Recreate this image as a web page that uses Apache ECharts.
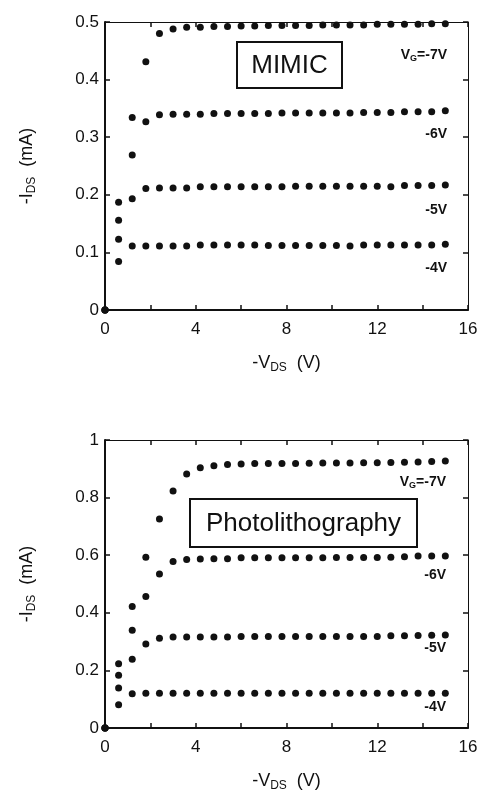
<!DOCTYPE html>
<html>
<head>
<meta charset="utf-8">
<script src="https://cdn.jsdelivr.net/npm/echarts@6/dist/echarts.min.js"></script>
<style>
    html, body {margin: 0; padding: 0; background: #fff;}
    #main {width: 482px; height: 799px;}
</style>
</head>
<body>
<div id="main"></div>
<script>
// -V_DS (V)
var vds = [0, 0.6, 1.2, 1.8, 2.4, 3.0, 3.6, 4.2, 4.8, 5.4, 6.0, 6.6, 7.2, 7.8, 8.4, 9.0,
    9.6, 10.2, 10.8, 11.4, 12.0, 12.6, 13.2, 13.8, 14.4, 15.0];

// MIMIC, -I_DS (mA)
var mimic7 = [0, 0.187, 0.334, 0.431, 0.480, 0.488, 0.491, 0.491, 0.492, 0.492, 0.493, 0.493, 0.494,
    0.494, 0.494, 0.494, 0.495, 0.495, 0.495, 0.495, 0.496, 0.496, 0.496, 0.496, 0.497, 0.497];
var mimic6 = [0, 0.156, 0.269, 0.327, 0.339, 0.340, 0.340, 0.340, 0.341, 0.341, 0.341, 0.341, 0.341,
    0.342, 0.342, 0.342, 0.342, 0.342, 0.342, 0.343, 0.343, 0.343, 0.344, 0.344, 0.344, 0.346];
var mimic5 = [0, 0.123, 0.193, 0.211, 0.212, 0.212, 0.212, 0.214, 0.214, 0.214, 0.214, 0.214, 0.214,
    0.214, 0.215, 0.215, 0.215, 0.215, 0.215, 0.215, 0.215, 0.214, 0.216, 0.216, 0.216, 0.217];
var mimic4 = [0, 0.084, 0.111, 0.111, 0.111, 0.111, 0.111, 0.113, 0.113, 0.113, 0.113, 0.113, 0.112,
    0.112, 0.112, 0.112, 0.112, 0.112, 0.111, 0.113, 0.113, 0.113, 0.113, 0.113, 0.113, 0.114];

// Photolithography, -I_DS (mA)
var photo7 = [0, 0.223, 0.422, 0.593, 0.726, 0.823, 0.882, 0.904, 0.911, 0.915, 0.917, 0.918, 0.918,
    0.918, 0.918, 0.919, 0.920, 0.920, 0.920, 0.921, 0.921, 0.922, 0.923, 0.924, 0.925, 0.927];
var photo6 = [0, 0.183, 0.339, 0.457, 0.535, 0.578, 0.585, 0.587, 0.588, 0.588, 0.591, 0.591, 0.591,
    0.591, 0.591, 0.591, 0.591, 0.592, 0.592, 0.592, 0.592, 0.593, 0.595, 0.597, 0.597, 0.597];
var photo5 = [0, 0.139, 0.239, 0.292, 0.312, 0.316, 0.316, 0.316, 0.316, 0.316, 0.318, 0.318, 0.318,
    0.318, 0.318, 0.318, 0.318, 0.318, 0.318, 0.318, 0.318, 0.320, 0.320, 0.321, 0.322, 0.323];
var photo4 = [0, 0.081, 0.119, 0.121, 0.121, 0.121, 0.121, 0.121, 0.121, 0.121, 0.121, 0.121, 0.121,
    0.121, 0.121, 0.121, 0.121, 0.121, 0.121, 0.121, 0.121, 0.121, 0.121, 0.121, 0.121, 0.121];

var seriesNames = ['-7V', '-6V', '-5V', '-4V'];

var FONT = '"Liberation Sans", Arial, Helvetica, sans-serif';
var INK = '#111';

function pairs(ys) {
    var out = [];
    for (var i = 0; i < ys.length; i++) {
        out.push([vds[i], ys[i]]);
    }
    return out;
}

// name with subscript, for the axis titles
var nameRich = {
    t: {fontSize: 18, fontFamily: FONT, color: INK},
    s: {fontSize: 12, fontFamily: FONT, color: INK, padding: [10, 0, 0, 0]}
};

function xAxisPair(gi) {
    return [{
        gridIndex: gi, type: 'value', min: 0, max: 16, interval: 2,
        name: '{t|-V}{s|DS}{t|  (V)}', nameLocation: 'middle', nameGap: 42,
        nameTextStyle: {rich: nameRich},
        axisLine: {onZero: false, lineStyle: {color: INK, width: 2}},
        axisTick: {inside: true, length: 5, lineStyle: {color: INK, width: 1.5}},
        axisLabel: {
            fontSize: 17, fontFamily: FONT, color: INK, margin: 11,
            formatter: function (v) { return v % 4 === 0 ? String(v) : ''; }
        },
        splitLine: {show: false}
    }, {
        gridIndex: gi, type: 'value', min: 0, max: 16, interval: 2, position: 'top',
        axisLine: {show: true, onZero: false, lineStyle: {color: INK, width: 1}},
        axisTick: {show: true, inside: true, length: 5, lineStyle: {color: INK, width: 1.5}},
        axisLabel: {show: false},
        splitLine: {show: false}
    }];
}

function yAxisPair(gi, max, step) {
    return [{
        gridIndex: gi, type: 'value', min: 0, max: max, interval: step,
        name: '{t|-I}{s|DS}{t|  (mA)}', nameLocation: 'middle', nameGap: 67, nameRotate: 90,
        nameTextStyle: {rich: nameRich},
        axisLine: {show: true, onZero: false, lineStyle: {color: INK, width: 2}},
        axisTick: {show: true, inside: true, length: 5, lineStyle: {color: INK, width: 1.5}},
        axisLabel: {fontSize: 17, fontFamily: FONT, color: INK, margin: 6},
        splitLine: {show: false}
    }, {
        gridIndex: gi, type: 'value', min: 0, max: max, interval: step, position: 'right',
        axisLine: {show: true, onZero: false, lineStyle: {color: INK, width: 1}},
        axisTick: {show: true, inside: true, length: 5, lineStyle: {color: INK, width: 1.5}},
        axisLabel: {show: false},
        splitLine: {show: false}
    }];
}

function dots(gi, ys, name) {
    return {
        name: name, type: 'scatter', xAxisIndex: gi * 2, yAxisIndex: gi * 2,
        data: pairs(ys), symbol: 'circle', symbolSize: 7, clip: false, z: 5,
        itemStyle: {color: INK, opacity: 1}, silent: true
    };
}

function curveLabel(x, y, main, sub, rest) {
    return {
        type: 'text', x: x, y: y,
        style: {
            text: sub ? '{b|' + main + '}{g|' + sub + '}{b|' + rest + '}' : '{b|' + main + '}',
            align: 'right', verticalAlign: 'middle',
            rich: {
                b: {fontSize: 14, fontWeight: 'bold', fontFamily: FONT, fill: INK},
                g: {fontSize: 9, fontWeight: 'bold', fontFamily: FONT, fill: INK, padding: [7, 0, 0, 0]}
            }
        }
    };
}

function boxLabel(x, y, w, h, text) {
    return {
        type: 'group', x: x, y: y,
        children: [{
            type: 'rect', shape: {x: 0, y: 0, width: w, height: h},
            style: {fill: '#fff', stroke: INK, lineWidth: 2}
        }, {
            type: 'text', x: w / 2, y: h / 2 + 1,
            style: {text: text, fontSize: 26, fontFamily: FONT, fill: INK, align: 'center', verticalAlign: 'middle'}
        }]
    };
}

var xAxes = xAxisPair(0).concat(xAxisPair(1));
var yAxes = yAxisPair(0, 0.5, 0.1).concat(yAxisPair(1, 1, 0.2));

var option = {
    backgroundColor: '#fff',
    animation: false,
    grid: [
        {left: 105, top: 22, width: 363, height: 288},
        {left: 105, top: 440, width: 363, height: 288}
    ],
    xAxis: xAxes,
    yAxis: yAxes,
    series: [
        dots(0, mimic7, seriesNames[0]),
        dots(0, mimic6, seriesNames[1]),
        dots(0, mimic5, seriesNames[2]),
        dots(0, mimic4, seriesNames[3]),
        dots(1, photo7, seriesNames[0]),
        dots(1, photo6, seriesNames[1]),
        dots(1, photo5, seriesNames[2]),
        dots(1, photo4, seriesNames[3])
    ],
    graphic: [
        boxLabel(237, 42, 105, 46, 'MIMIC'),
        boxLabel(190, 499, 227, 48, 'Photolithography'),
        curveLabel(447, 55, 'V', 'G', '=-7V'),
        curveLabel(447, 134, '-6V'),
        curveLabel(447, 210, '-5V'),
        curveLabel(447, 268, '-4V'),
        curveLabel(446, 482, 'V', 'G', '=-7V'),
        curveLabel(446, 575, '-6V'),
        curveLabel(446, 648, '-5V'),
        curveLabel(446, 707, '-4V')
    ]
};

var myChart = echarts.init(document.getElementById('main'));
myChart.setOption(option);
</script>
</body>
</html>
